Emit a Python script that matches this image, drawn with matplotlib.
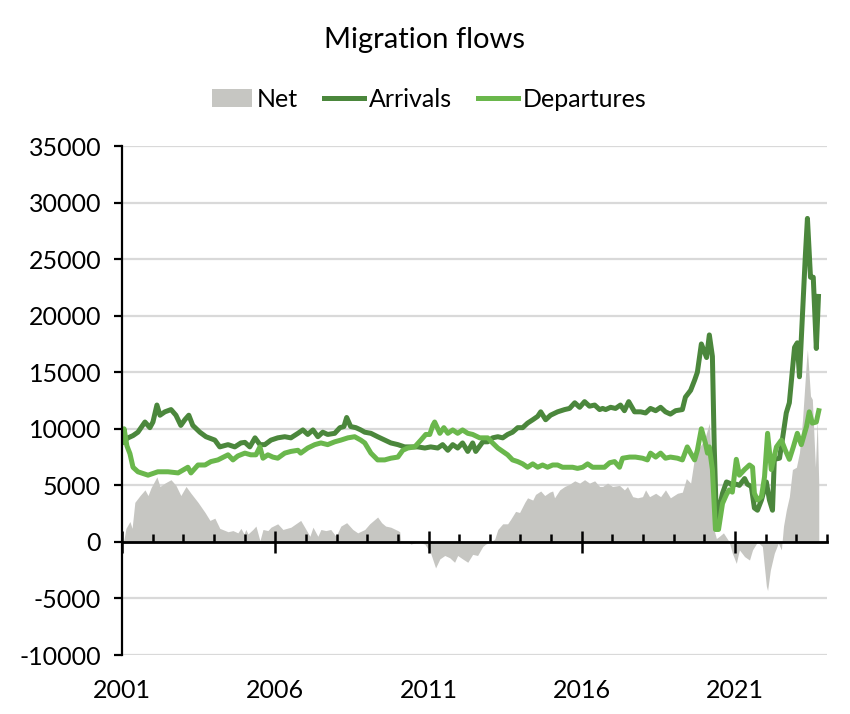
import numpy as np
import matplotlib
matplotlib.use("Agg")
import matplotlib.pyplot as plt
from matplotlib.patches import Patch
from matplotlib.lines import Line2D

plt.rcParams['font.family'] = ['Lato', 'DejaVu Sans']
plt.rcParams['axes.unicode_minus'] = False

# values, in thousands of people, dates as decimal years
arr_t = [2001.00, 2001.20, 2001.36, 2001.52, 2001.75, 2001.91, 2002.01, 2002.14, 2002.24, 2002.40,
         2002.60, 2002.76, 2002.92, 2003.05, 2003.18, 2003.31, 2003.54, 2003.74, 2004.03, 2004.19,
         2004.46, 2004.68, 2004.88, 2005.01, 2005.17, 2005.34, 2005.50, 2005.66, 2005.86, 2006.08,
         2006.31, 2006.51, 2006.74, 2006.90, 2007.06, 2007.23, 2007.39, 2007.55, 2007.71, 2007.94,
         2008.11, 2008.24, 2008.33, 2008.46, 2008.63, 2008.79, 2008.92, 2009.12, 2009.34, 2009.57,
         2009.77, 2010.00, 2010.22, 2010.42, 2010.65, 2010.88, 2011.07, 2011.30, 2011.46, 2011.63,
         2011.79, 2011.95, 2012.11, 2012.28, 2012.44, 2012.54, 2012.70, 2012.77, 2012.93, 2013.09,
         2013.26, 2013.42, 2013.58, 2013.74, 2013.91, 2014.07, 2014.23, 2014.40, 2014.56, 2014.66,
         2014.82, 2014.98, 2015.21, 2015.44, 2015.60, 2015.77, 2015.93, 2016.09, 2016.25, 2016.42,
         2016.58, 2016.68, 2016.78, 2016.94, 2017.10, 2017.26, 2017.39, 2017.53, 2017.72, 2017.92,
         2018.08, 2018.24, 2018.41, 2018.57, 2018.73, 2018.89, 2019.06, 2019.28, 2019.38, 2019.55,
         2019.68, 2019.77, 2019.90, 2020.00, 2020.07, 2020.16, 2020.26, 2020.32, 2020.39, 2020.49,
         2020.59, 2020.72, 2020.81, 2020.91, 2021.04, 2021.14, 2021.31, 2021.40, 2021.53, 2021.63,
         2021.73, 2021.86, 2022.02, 2022.12, 2022.22, 2022.28, 2022.45, 2022.54, 2022.67, 2022.77,
         2022.94, 2023.03, 2023.10, 2023.20, 2023.29, 2023.36, 2023.46, 2023.55, 2023.65, 2023.72]
arr_k = [8.8, 9.2, 9.4, 9.7, 10.6, 10.1, 10.6, 12.1, 11.2, 11.5,
         11.7, 11.2, 10.3, 10.8, 11.2, 10.3, 9.7, 9.3, 9.0, 8.4,
         8.6, 8.4, 8.75, 8.8, 8.4, 9.2, 8.6, 8.6, 9.0, 9.2,
         9.3, 9.2, 9.6, 9.9, 9.5, 9.9, 9.3, 9.7, 9.5, 9.6,
         10.1, 10.2, 11.0, 10.2, 10.1, 9.9, 9.7, 9.6, 9.3, 9.0,
         8.75, 8.6, 8.4, 8.4, 8.4, 8.3, 8.4, 8.3, 8.6, 8.1,
         8.6, 8.3, 8.75, 8.0, 8.75, 8.0, 8.6, 8.85, 8.85, 9.2,
         9.3, 9.2, 9.5, 9.7, 10.1, 10.1, 10.5, 10.8, 11.1, 11.5,
         10.8, 11.2, 11.5, 11.7, 11.8, 12.3, 11.9, 12.4, 12.0, 12.1,
         11.7, 11.8, 11.7, 11.9, 11.8, 12.1, 11.6, 12.4, 11.5, 11.5,
         11.4, 11.8, 11.6, 11.9, 11.5, 11.3, 11.6, 11.7, 12.8, 13.4,
         14.3, 15.0, 17.5, 16.8, 16.3, 18.3, 16.4, 8.4, 2.0, 3.1,
         4.3, 5.3, 5.2, 5.0, 5.1, 5.0, 5.6, 5.1, 4.9, 3.0,
         2.8, 3.7, 5.3, 3.7, 2.8, 7.3, 7.4, 9.0, 11.4, 12.3,
         17.2, 17.6, 14.6, 20.2, 25.2, 28.6, 23.4, 23.4, 17.1, 21.7]

dep_t = [2001.00, 2001.07, 2001.16, 2001.26, 2001.36, 2001.52, 2001.85, 2002.17, 2002.50, 2002.83,
         2003.15, 2003.25, 2003.48, 2003.71, 2003.90, 2004.13, 2004.46, 2004.62, 2004.78, 2005.01,
         2005.20, 2005.37, 2005.50, 2005.60, 2005.76, 2005.92, 2006.08, 2006.31, 2006.51, 2006.74,
         2006.83, 2007.06, 2007.29, 2007.49, 2007.71, 2007.94, 2008.14, 2008.37, 2008.59, 2008.79,
         2008.92, 2009.12, 2009.34, 2009.57, 2009.77, 2010.00, 2010.16, 2010.32, 2010.55, 2010.75,
         2010.91, 2011.04, 2011.14, 2011.20, 2011.37, 2011.50, 2011.63, 2011.79, 2011.95, 2012.11,
         2012.28, 2012.44, 2012.67, 2012.93, 2013.09, 2013.26, 2013.42, 2013.58, 2013.74, 2013.91,
         2014.07, 2014.23, 2014.40, 2014.56, 2014.72, 2014.88, 2015.05, 2015.21, 2015.37, 2015.54,
         2015.70, 2015.86, 2016.03, 2016.19, 2016.35, 2016.52, 2016.74, 2016.91, 2017.07, 2017.23,
         2017.33, 2017.56, 2017.75, 2017.98, 2018.14, 2018.24, 2018.41, 2018.57, 2018.73, 2018.89,
         2019.12, 2019.28, 2019.44, 2019.55, 2019.68, 2019.77, 2019.90, 2020.03, 2020.10, 2020.16,
         2020.26, 2020.36, 2020.46, 2020.59, 2020.72, 2020.81, 2020.91, 2021.04, 2021.14, 2021.31,
         2021.47, 2021.57, 2021.63, 2021.73, 2021.86, 2021.96, 2022.06, 2022.18, 2022.35, 2022.51,
         2022.64, 2022.77, 2022.90, 2023.03, 2023.16, 2023.33, 2023.42, 2023.52, 2023.65, 2023.73]
dep_k = [8.8, 10.0, 8.5, 7.8, 6.6, 6.2, 5.9, 6.2, 6.2, 6.1,
         6.6, 6.1, 6.8, 6.8, 7.1, 7.25, 7.7, 7.25, 7.6, 7.85,
         7.7, 7.7, 8.4, 7.4, 7.7, 7.5, 7.4, 7.85, 8.0, 8.1,
         7.85, 8.3, 8.6, 8.75, 8.6, 8.85, 9.0, 9.2, 9.3, 9.0,
         8.75, 7.85, 7.25, 7.25, 7.4, 7.5, 8.1, 8.3, 8.4, 9.0,
         9.5, 9.5, 10.3, 10.6, 9.6, 10.1, 9.6, 9.9, 9.6, 9.9,
         9.6, 9.5, 9.2, 9.2, 8.75, 8.3, 8.0, 7.7, 7.25, 7.1,
         6.9, 6.6, 6.9, 6.6, 6.8, 6.6, 6.8, 6.8, 6.6, 6.6,
         6.6, 6.5, 6.6, 6.9, 6.6, 6.6, 6.6, 7.0, 7.1, 6.6,
         7.4, 7.5, 7.5, 7.4, 7.25, 7.85, 7.5, 7.85, 7.4, 7.5,
         7.4, 7.25, 8.4, 7.85, 7.25, 8.1, 10.0, 8.75, 7.85, 8.4,
         6.4, 1.1, 1.1, 3.4, 4.2, 4.6, 4.4, 7.3, 5.9, 6.4,
         6.8, 6.6, 4.3, 3.7, 4.0, 5.75, 9.6, 6.4, 8.4, 9.0,
         8.1, 7.3, 8.4, 9.6, 8.6, 10.2, 11.5, 10.5, 10.6, 11.6]

net_t = [2001.00, 2001.07, 2001.13, 2001.26, 2001.33, 2001.42, 2001.59, 2001.75, 2001.85, 2001.95,
         2002.14, 2002.24, 2002.40, 2002.60, 2002.76, 2002.92, 2003.09, 2003.25, 2003.48, 2003.71,
         2003.87, 2004.03, 2004.19, 2004.46, 2004.62, 2004.78, 2004.88, 2004.98, 2005.04, 2005.11,
         2005.27, 2005.37, 2005.50, 2005.60, 2005.76, 2005.86, 2006.08, 2006.25, 2006.51, 2006.67,
         2006.83, 2006.96, 2007.13, 2007.23, 2007.39, 2007.49, 2007.65, 2007.81, 2007.98, 2008.14,
         2008.33, 2008.53, 2008.69, 2008.92, 2009.08, 2009.21, 2009.34, 2009.47, 2009.60, 2009.77,
         2010.00, 2010.06, 2010.09, 2010.32, 2010.42, 2010.65, 2010.88, 2011.00, 2011.07, 2011.23,
         2011.37, 2011.53, 2011.69, 2011.85, 2011.95, 2012.11, 2012.28, 2012.44, 2012.60, 2012.77,
         2012.86, 2013.03, 2013.16, 2013.26, 2013.42, 2013.58, 2013.68, 2013.84, 2013.97, 2014.14,
         2014.23, 2014.40, 2014.49, 2014.66, 2014.79, 2014.95, 2015.05, 2015.11, 2015.28, 2015.44,
         2015.60, 2015.77, 2015.93, 2016.09, 2016.25, 2016.42, 2016.58, 2016.68, 2016.84, 2017.00,
         2017.23, 2017.39, 2017.49, 2017.66, 2017.82, 2017.98, 2018.08, 2018.21, 2018.41, 2018.57,
         2018.73, 2018.89, 2019.12, 2019.28, 2019.41, 2019.55, 2019.68, 2019.77, 2019.93, 2020.03,
         2020.16, 2020.26, 2020.32, 2020.39, 2020.49, 2020.62, 2020.81, 2020.91, 2021.04, 2021.14,
         2021.31, 2021.47, 2021.57, 2021.73, 2021.89, 2022.02, 2022.06, 2022.15, 2022.28, 2022.41,
         2022.51, 2022.58, 2022.67, 2022.77, 2022.87, 2023.00, 2023.10, 2023.20, 2023.33, 2023.36,
         2023.46, 2023.52, 2023.62, 2023.68, 2023.73]
net_k = [-0.5, 0.3, 1.2, 1.8, 1.2, 3.5, 4.1, 4.6, 4.1, 4.8,
         5.75, 4.9, 5.2, 5.5, 5.0, 4.1, 4.9, 4.3, 3.5, 2.6,
         1.9, 2.1, 1.2, 0.9, 1.0, 0.8, 1.2, 0.7, 1.1, 0.7,
         1.1, 1.4, 0.1, 1.1, 1.0, 1.3, 1.6, 1.1, 1.3, 1.6,
         1.9, 1.3, 0.5, 1.3, 0.5, 1.1, 1.0, 1.1, 0.5, 1.4,
         1.7, 1.1, 0.8, 1.1, 1.6, 1.9, 2.2, 1.7, 1.4, 1.3,
         1.0, 0.9, 0.1, 0.1, -0.2, 0.0, -0.2, -0.7, -1.0, -2.3,
         -1.5, -1.2, -1.4, -1.8, -1.2, -1.5, -1.8, -1.1, -1.2, -0.4,
         -0.2, 0.0, 0.25, 1.1, 1.6, 1.6, 2.0, 2.7, 2.6, 3.5,
         3.9, 3.7, 4.2, 4.5, 4.1, 4.4, 4.5, 3.9, 4.6, 4.9,
         5.1, 5.4, 5.2, 5.5, 5.2, 5.4, 4.9, 4.9, 5.2, 4.9,
         5.0, 4.6, 4.9, 4.0, 3.9, 4.0, 4.6, 4.0, 4.3, 4.0,
         4.6, 3.9, 4.3, 4.4, 5.6, 5.2, 7.5, 8.1, 8.75, 9.3,
         10.5, 5.5, 1.0, 0.3, 0.5, 0.8, 0.0, -1.0, -1.9, -0.7,
         -1.3, -1.6, -0.7, 0.0, -0.4, -3.9, -4.3, -2.5, -1.0, -0.1,
         -0.7, 1.4, 2.8, 4.0, 6.4, 6.6, 7.9, 10.8, 16.1, 17.0,
         12.9, 12.6, 6.6, 10.8, 5.0]

major_years = [2001, 2006, 2011, 2016, 2021]
minor_years = list(range(2001, 2025))

c_arr = '#4b873c'
c_dep = '#6ab74c'
c_net = '#c6c6c2'

fig = plt.figure(figsize=(8.5, 7.14), dpi=100)
ax = fig.add_axes([0.1435, 0.0826, 0.8295, 0.7129])

ax.fill_between(net_t, 0, np.array(net_k) * 1000, color=c_net, lw=0, zorder=1)
ax.plot(arr_t, np.array(arr_k) * 1000, color=c_arr, lw=3.6, solid_joinstyle='round', zorder=2)
ax.plot(dep_t, np.array(dep_k) * 1000, color=c_dep, lw=3.6, solid_joinstyle='round', zorder=2.1)

ylo, yhi = -10000, 35000
ax.set_ylim(ylo, yhi)
ax.set_yticks(range(ylo, yhi + 1, 5000))
ax.set_xlim(2001, 2024)
ax.set_xticks(major_years)
ax.set_axisbelow(True)
ax.grid(axis='y', color='#d9d9d9', lw=1.6)

for s in ['top', 'right', 'bottom']:
    ax.spines[s].set_visible(False)
ax.spines['left'].set_linewidth(1.6)
ax.tick_params(axis='y', length=6, width=1.6, pad=9, labelsize=18)
ax.tick_params(axis='x', length=0, pad=17, labelsize=18)

# zero line with year ticks
sec = ax.secondary_xaxis((0 - ylo) / (yhi - ylo))
sec.set_xticks(major_years)
sec.set_xticks(minor_years, minor=True)
sec.tick_params(which='major', direction='inout', length=16, width=1.8, labelbottom=False)
sec.tick_params(which='minor', direction='in', length=6, width=1.8)
sec.spines['bottom'].set_linewidth(2)
sec.set_zorder(3)

handles = [Patch(fc=c_net, ec='none'),
           Line2D([], [], color=c_arr, lw=3.6),
           Line2D([], [], color=c_dep, lw=3.6)]
fig.legend(handles, ['Net', 'Arrivals', 'Departures'], loc='center', bbox_to_anchor=(0.505, 0.861),
           ncol=3, frameon=False, fontsize=18, handlelength=1.6, handletextpad=0.18,
           columnspacing=1.05)

fig.text(0.5, 1 - 40 / 714, 'Migration flows', ha='center', va='center', fontsize=21)

fig.savefig('out.png', dpi=100)
